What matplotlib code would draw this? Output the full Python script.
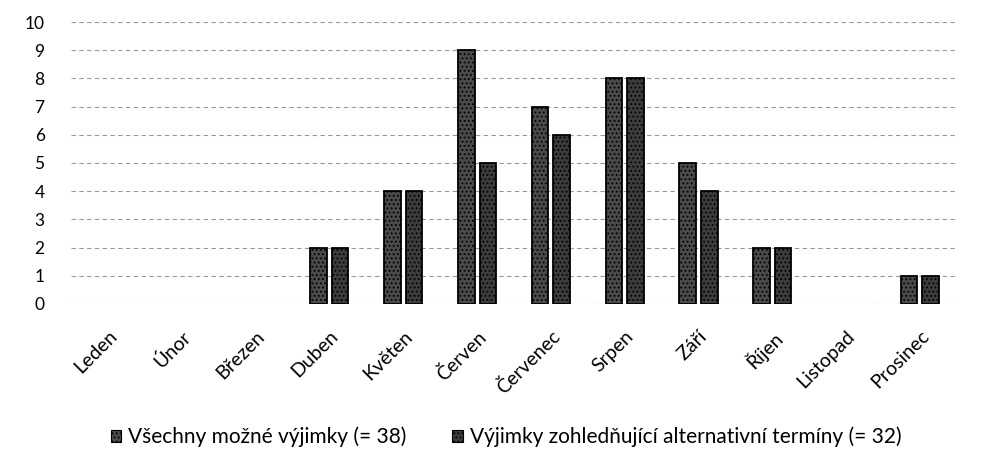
#!/usr/bin/env python3
"""Výjimky podle měsíců — dvě řady sloupců."""

import matplotlib
matplotlib.use("Agg")
import matplotlib.pyplot as plt
import numpy as np

months = ["Leden", "Únor", "Březen", "Duben", "Květen", "Červen",
          "Červenec", "Srpen", "Září", "Říjen", "Listopad", "Prosinec"]
all_exc = [0, 0, 0, 2, 4, 9, 7, 8, 5, 2, 0, 1]
alt_exc = [0, 0, 0, 2, 4, 5, 6, 8, 4, 2, 0, 1]
labels = ["Všechny možné výjimky (= 38)",
          "Výjimky zohledňující alternativní termíny (= 32)"]

plt.rcParams["font.family"] = ["Lato", "DejaVu Sans"]
plt.rcParams["hatch.color"] = "#b0b0b0"
plt.rcParams["hatch.linewidth"] = 0.8

fig = plt.figure(figsize=(9.81, 4.69), dpi=100)
ax = fig.add_axes([0.0724, 0.352, 0.903, 0.601])

x = np.arange(len(months))
w = 0.224
gap = 0.068
for vals, off, col, lab in [(all_exc, -(w + gap) / 2, "#4a4a4a", labels[0]),
                            (alt_exc, (w + gap) / 2, "#3c3c3c", labels[1])]:
    lw = [1.3 if v else 0 for v in vals]
    ax.bar(x + off, vals, w, color=col, edgecolor="black", linewidth=lw,
           hatch="....", label=lab, zorder=3)

ax.set_xlim(-0.5, len(months) - 0.5)
ax.set_ylim(0, 10)
ax.set_yticks(range(11))
ax.yaxis.grid(True, color="#9a9a9a", linestyle=(0, (4, 3)), linewidth=0.8, zorder=0)
for s in ax.spines.values():
    s.set_visible(False)
ax.tick_params(length=0)
ax.tick_params(axis="y", labelsize=12.5, pad=19)
ax.set_xticks(x)
ax.set_xticklabels(months, rotation=45, ha="right", rotation_mode="anchor", fontsize=14)
ax.tick_params(axis="x", pad=17)

leg = fig.legend(loc="center", bbox_to_anchor=(0.516, 0.068), ncol=2, frameon=False,
                 fontsize=15, handlelength=0.5, handleheight=0.5, columnspacing=2.2,
                 handletextpad=0.35)
for h in leg.legend_handles:
    h.set_linewidth(0.8)

fig.savefig("out.png", dpi=100)
